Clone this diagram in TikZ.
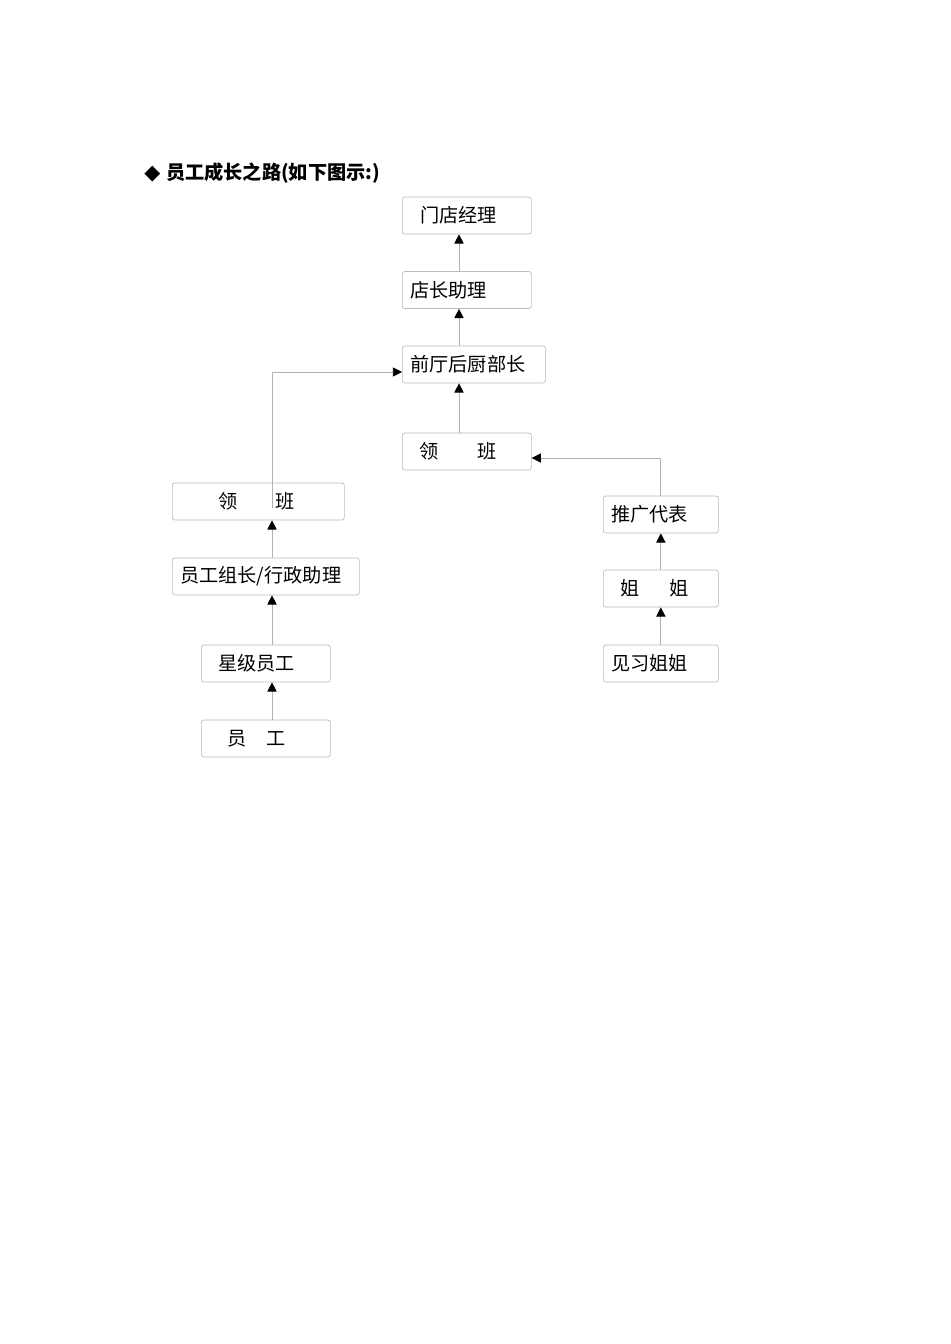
\documentclass[tikz,border=0pt]{standalone}
\usepackage{fontspec}
\newfontfamily\cjk{Noto Sans CJK SC}
\newfontfamily\sym{DejaVu Sans}
\usetikzlibrary{arrows.meta}

\begin{document}
\begin{tikzpicture}[x=0.6pt,y=-0.6pt]
\useasboundingbox (0,0) rectangle (950,1344);
\node (0) at (144,173) [anchor=west,inner sep=0pt,font=\cjk\bfseries\fontsize{11.5}{13}\selectfont] {{\sym\fontsize{12.5}{14}\selectfont ◆}\hspace{3.5pt}员工成长之路(如下图示:)};

\begin{scope}[
    every node/.style={anchor=west,draw=gray!55,rounded corners=1.5pt,minimum height=37*0.6pt,inner ysep=0pt,align=left,font=\cjk\fontsize{11.5}{13}\selectfont},
    box/.style 2 args={inner xsep=#2*0.6pt,text width=(#1-2*#2)*0.6pt}]
    % middle column
    \node (1) at (402,215.5) [box={129}{18}] {门店经理};
    \node (2) at (402,290) [box={129}{8}] {店长助理};
    \node (3) at (402,364.5) [box={143}{8}] {前厅后厨部长};
    \node (4) at (402,451.5) [box={129}{17}] {领\hspace{23.4pt}班};

    % left column
    \node (5) at (172,501.5) [box={172}{46}] {领\hspace{23pt}班};
    \node (6) at (172,576.5) [box={187}{8}] {员工组长/行政助理};
    \node (7) at (201,663.5) [box={129}{17}] {星级员工};
    \node (8) at (201,738.5) [box={129}{26}] {员\hspace{12pt}工};

    % right column
    \node (9) at (603,514.5) [box={115}{8}] {推广代表};
    \node (10) at (603,588.5) [box={115}{17}] {姐\hspace{18pt}姐};
    \node (11) at (603,663.5) [box={115}{8}] {见习姐姐};
\end{scope}

\coordinate (m) at (459,0);
\coordinate (l) at (272,0);
\coordinate (l0) at (272,508);

\begin{scope}[>={Triangle[black,length=5.5pt,width=5.5pt]},
              every edge/.style={draw=gray!60,line width=0.5pt}]
    \path [->] (2.north -| m) edge (1.south -| m);
    \path [->] (3.north -| m) edge (2.south -| m);
    \path [->] (4.north -| m) edge (3.south -| m);

    \path [->] (6.north -| l) edge (5.south -| l);
    \path [->] (7.north -| l) edge (6.south -| l);
    \path [->] (8.north -| l) edge (7.south -| l);

    \path [->] (10.north) edge (9.south);
    \path [->] (11.north) edge (10.south);

    \draw [->,draw=gray!60,line width=0.5pt] (l0) |- ([yshift=-4.5pt]3.west);
    \draw [->,draw=gray!60,line width=0.5pt] (9.north) |- ([yshift=-3.9pt]4.east);
\end{scope}
\end{tikzpicture}
\end{document}
